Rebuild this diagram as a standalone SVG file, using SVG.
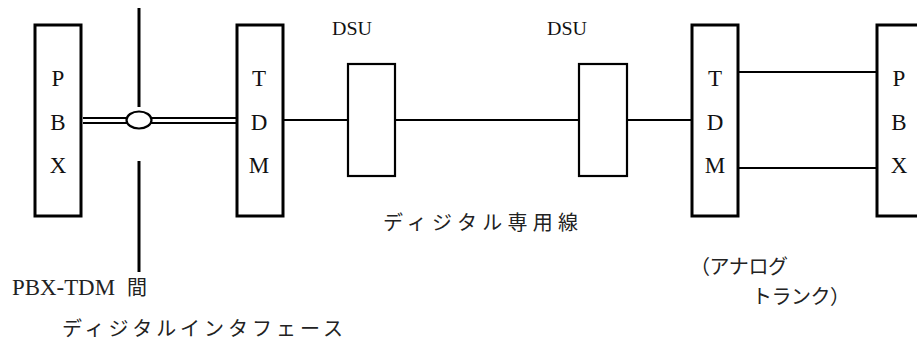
<svg xmlns="http://www.w3.org/2000/svg" width="917" height="346" viewBox="0 0 917 346">
<style>
.box{fill:#fff;stroke:#000;stroke-width:3}
.dsu{fill:#fff;stroke:#000;stroke-width:2.2}
.ln{stroke:#000;stroke-width:1.8;fill:none}
</style>
<rect width="917" height="346" fill="#fff"/>
<g id="connectors">
<line class="ln" x1="83" y1="118" x2="127" y2="118"/>
<line class="ln" x1="83" y1="123" x2="127" y2="123"/>
<line class="ln" x1="151" y1="118" x2="236" y2="118"/>
<line class="ln" x1="151" y1="123" x2="236" y2="123"/>
<line class="ln" x1="283" y1="120" x2="348" y2="120"/>
<line class="ln" x1="395" y1="120" x2="579" y2="120"/>
<line class="ln" x1="627" y1="120" x2="692" y2="120"/>
<line class="ln" x1="738" y1="72" x2="877" y2="72"/>
<line class="ln" x1="738" y1="168" x2="877" y2="168"/>
<line x1="139" y1="8" x2="139" y2="107" stroke="#000" stroke-width="3"/>
<line x1="139" y1="161" x2="139" y2="272" stroke="#000" stroke-width="3"/>
</g>
<g id="interface">
<ellipse cx="139" cy="120" rx="12.5" ry="8.5" fill="#fff" stroke="#000" stroke-width="2.2"/>
</g>
<g font-family="Liberation Serif" font-size="23" fill="#111" text-anchor="middle">
<g id="pbx-left">
<rect class="box" x="35" y="25" width="46" height="191"/>
<text x="58" y="86">P</text>
<text x="58" y="130">B</text>
<text x="58" y="173">X</text>
</g>
<g id="tdm-left">
<rect class="box" x="237" y="25" width="46" height="191"/>
<text x="259" y="86">T</text>
<text x="259" y="130">D</text>
<text x="259" y="173">M</text>
</g>
<g id="tdm-right">
<rect class="box" x="692" y="25" width="46" height="191"/>
<text x="715" y="86">T</text>
<text x="715" y="130">D</text>
<text x="715" y="173">M</text>
</g>
<g id="pbx-right">
<rect class="box" x="877" y="25" width="46" height="191"/>
<text x="899" y="86">P</text>
<text x="899" y="130">B</text>
<text x="899" y="173">X</text>
</g>
</g>
<g font-family="Liberation Serif" font-size="18" fill="#111">
<g id="dsu-left">
<rect class="dsu" x="348" y="64" width="47" height="112"/>
<text x="332" y="35" textLength="40" lengthAdjust="spacingAndGlyphs">DSU</text>
</g>
<g id="dsu-right">
<rect class="dsu" x="579" y="64" width="48" height="112"/>
<text x="547" y="35" textLength="40" lengthAdjust="spacingAndGlyphs">DSU</text>
</g>
</g>
<g id="labels" font-family="Liberation Serif, Noto Sans CJK JP, serif" font-size="20" fill="#222">
<text x="383" y="230" textLength="195">ディジタル専用線</text>
<text x="12" y="295"><tspan font-size="22.5" textLength="103" lengthAdjust="spacingAndGlyphs">PBX-TDM</tspan><tspan x="127">間</tspan></text>
<text x="62" y="336" textLength="281">ディジタルインタフェース</text>
<text x="690" y="274" textLength="98">（アナログ</text>
<text x="752" y="304" textLength="98">トランク）</text>
</g>
</svg>
